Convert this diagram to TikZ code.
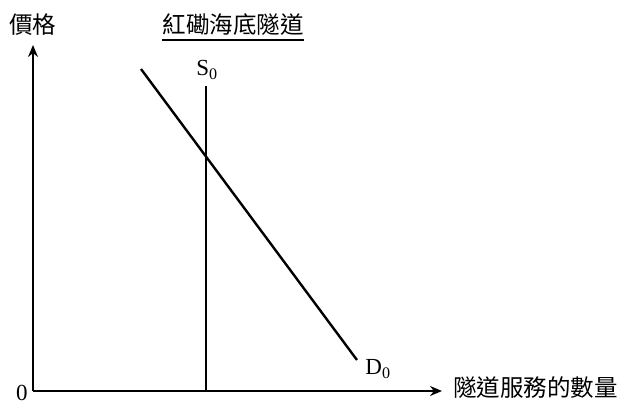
\documentclass[tikz,border=0pt]{standalone}
\usepackage{fontspec}
\setmainfont{Liberation Serif}
\newfontfamily\cjk{Noto Sans CJK TC}
\usetikzlibrary{arrows.meta}
\begin{document}
\begin{tikzpicture}[x=1pt,y=-1pt,
  axis/.style={line width=1.6pt,-{Stealth[length=12pt,width=10pt]}},
  curve/.style={line width=2.4pt},
  cjklabel/.style={font=\cjk\fontsize{23.5}{26}\selectfont,inner sep=0pt},
  numlabel/.style={font=\fontsize{23}{25}\selectfont,inner sep=0pt}]
\useasboundingbox (0,0) rectangle (623,405);
\coordinate (O) at (33,391);
\coordinate (ytip) at (33,45);
\coordinate (xtip) at (442,391);
\draw[axis] (O) -- (ytip);
\draw[axis] (O) -- (xtip);
\coordinate (Stop) at (206,86);
\coordinate (Sbot) at (206,391);
\draw[curve] (Stop) -- (Sbot);
\coordinate (Dtop) at (141,69);
\coordinate (Dbot) at (357,360);
\draw[curve] (Dtop) -- (Dbot);
\node[numlabel] (s0) at (207,70) {S\textsubscript{0}};
\node[numlabel] (d0) at (378,369) {D\textsubscript{0}};
\node[numlabel,anchor=south] (zero) at (22,401) {0};
\node[cjklabel,anchor=west] (price) at (9,25) {價格};
\node[cjklabel,anchor=west] (qty) at (453,388) {隧道服務的數量};
\node[cjklabel] (title) at (233,25) {紅磡海底隧道};
\draw[line width=1.2pt] ([yshift=-4pt]title.south west) -- ([yshift=-4pt]title.south east);
\end{tikzpicture}
\end{document}
